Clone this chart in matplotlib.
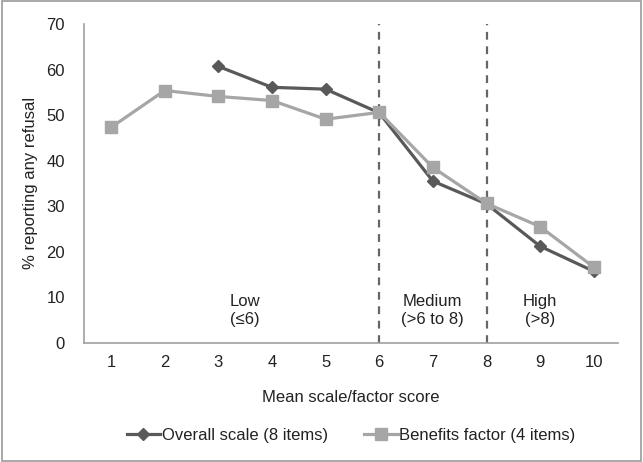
import matplotlib
matplotlib.use("Agg")
import matplotlib.pyplot as plt
from matplotlib.patches import Rectangle

plt.rcParams['font.family'] = ['Liberation Sans', 'DejaVu Sans']

# data
scores = [1, 2, 3, 4, 5, 6, 7, 8, 9, 10]
overall_x = [3, 4, 5, 6, 7, 8, 9, 10]
overall = [60.7, 56.1, 55.7, 50.5, 35.5, 30.5, 21.2, 15.7]
benefits = [47.3, 55.4, 54.1, 53.2, 49.1, 50.6, 38.5, 30.6, 25.5, 16.6]
cutoffs = [6, 8]
groups = [("Low\n(≤6)", 3.5), ("Medium\n(>6 to 8)", 7), ("High\n(>8)", 9)]

dark = '#595959'
light = '#a6a6a6'
axis_col = '#a0a0a0'
fs = 12

fig = plt.figure(figsize=(6.43, 4.62), dpi=100)
ax = fig.add_axes([0.131, 0.258, 0.830, 0.690])

ax.plot(overall_x, overall, color=dark, lw=2.3, marker='D', ms=6.5,
        label='Overall scale (8 items)', zorder=3)
ax.plot(scores, benefits, color=light, lw=2.3, marker='s', ms=8.5,
        label='Benefits factor (4 items)', zorder=4)

# cut-off lines between groups
for c in cutoffs:
    ax.plot([c, c], [0, 70], color='#666666', lw=1.6, ls=(0, (3.5, 3)), zorder=2)

for txt, xpos in groups:
    ax.text(xpos, 7, txt, ha='center', va='center', fontsize=fs,
            color='#222222', linespacing=1.25)

ax.set_xlim(0.5, 10.45)
ax.set_ylim(0, 70)
ax.set_xticks(scores)
ax.set_yticks(range(0, 71, 10))
ax.tick_params(length=0, labelsize=fs, colors='#222222', pad=9)
ax.tick_params(axis='y', pad=14)
for s in ['top', 'right']:
    ax.spines[s].set_visible(False)
for s in ['left', 'bottom']:
    ax.spines[s].set_color(axis_col)
    ax.spines[s].set_linewidth(1.2)

ax.set_xlabel('Mean scale/factor score', fontsize=fs, color='#222222', labelpad=14)
ax.set_ylabel('% reporting any refusal', fontsize=fs, color='#222222', labelpad=6)

ax.legend(loc='upper center', bbox_to_anchor=(0.5, -0.22), ncol=2, frameon=False,
          fontsize=fs, handlelength=2.0, handletextpad=0.1, columnspacing=2.2,
          labelcolor='#222222')

fig.patches.append(Rectangle((0.003, 0.003), 0.994, 0.994, transform=fig.transFigure,
                             fill=False, edgecolor='#9a9a9a', lw=1.2))

fig.savefig('out.png', dpi=100)
